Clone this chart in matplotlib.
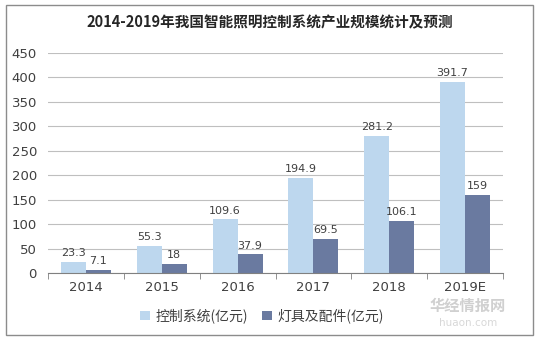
import matplotlib
matplotlib.use("Agg")
import matplotlib.pyplot as plt
import numpy as np
from matplotlib.patches import Rectangle

plt.rcParams['font.family'] = ['Noto Sans CJK SC', 'DejaVu Sans']

categories = ["2014", "2015", "2016", "2017", "2018", "2019E"]
control = [23.3, 55.3, 109.6, 194.9, 281.2, 391.7]
fixtures = [7.1, 18, 37.9, 69.5, 106.1, 159]
series_names = ["控制系统(亿元)", "灯具及配件(亿元)"]
title = "2014-2019年我国智能照明控制系统产业规模统计及预测"

c_light = "#BDD7EE"
c_dark = "#6A7AA0"

fig = plt.figure(figsize=(5.4, 3.4), dpi=100)
fig.patches.append(Rectangle((6/540, 5/340), 527/540, 330/340, transform=fig.transFigure,
                             fill=False, edgecolor="#8C8C8C", linewidth=1))
ax = fig.add_axes([48/540, (340-273)/340, (503-48)/540, (273-53)/340])

x = np.arange(len(categories))
w = 0.33
ax.bar(x - w/2, control, w, color=c_light, label=series_names[0], zorder=2)
ax.bar(x + w/2, fixtures, w, color=c_dark, label=series_names[1], zorder=2)

for xi, v in zip(x, control):
    ax.text(xi - w/2, v + 8, f"{v:g}", ha="center", va="bottom", fontsize=8, color="#404040", family="DejaVu Sans")
for xi, v in zip(x, fixtures):
    ax.text(xi + w/2, v + 8, f"{v:g}", ha="center", va="bottom", fontsize=8, color="#404040", family="DejaVu Sans")

ax.set_xlim(-0.5, len(categories) - 0.5)
ax.set_ylim(0, 450)
ax.set_yticks(np.arange(0, 451, 50))
ax.yaxis.grid(True, color="#BFBFBF", linewidth=0.8, zorder=0)
ax.set_axisbelow(True)
for s in ["top", "right", "left"]:
    ax.spines[s].set_visible(False)
ax.spines["bottom"].set_color("#808080")
ax.tick_params(axis="y", length=0, labelsize=9.5, colors="#404040", pad=8)
ax.set_xticks(x)
ax.set_xticklabels(categories)
ax.tick_params(axis="x", length=0, labelsize=9.5, colors="#404040", pad=6)
ax.set_xticks(np.arange(-0.5, len(categories), 1), minor=True)
ax.tick_params(axis="x", which="minor", length=4, color="#808080")
for lbl in ax.get_xticklabels() + ax.get_yticklabels():
    lbl.set_family("DejaVu Sans")

fig.text(0.5, 1 - 22/340, title, ha="center", va="center", fontsize=10.5, fontweight="bold", color="#262626")

ax.legend(loc="center", bbox_to_anchor=(262/540, (340-316)/340), bbox_transform=fig.transFigure,
          ncol=2, frameon=False, fontsize=10, handlelength=0.7, handleheight=0.7,
          columnspacing=1.0, handletextpad=0.4, labelcolor="#404040")

fig.text(468/540, 1 - 306/340, "华经情报网", ha="center", va="center", fontsize=11, color="#D0D0D0", fontweight="bold")
fig.text(468/540, 1 - 323/340, "huaon.com", ha="center", va="center", fontsize=7.5, color="#D8D8D8", family="DejaVu Sans")

fig.savefig("out.png", dpi=100)
